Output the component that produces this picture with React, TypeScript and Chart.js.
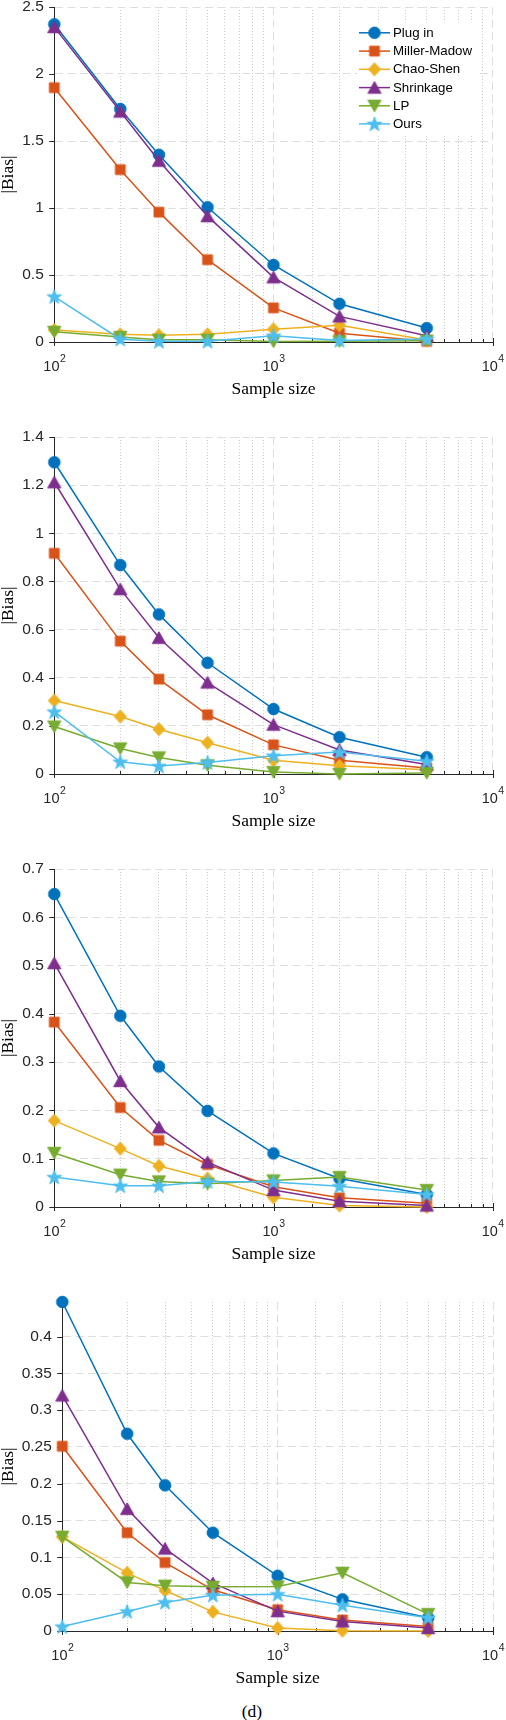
import React, { useEffect, useRef } from "react";
import { Chart, registerables } from "chart.js";

Chart.register(...registerables);

// ---------------- data ----------------
const sampleSizes = [100, 200, 300, 500, 1000, 2000, 5000];
const seriesNames = ["Plug in", "Miller-Madow", "Chao-Shen", "Shrinkage", "LP", "Ours"];
const seriesColors = ["#0072BD", "#D95319", "#EDB120", "#7E2F8E", "#77AC30", "#4DBEEE"];
const seriesMarkers = ["circle", "square", "diamond", "triangleUp", "triangleDown", "pentagram"];

// panel 1
const plugInA = [2.371, 1.739, 1.397, 1.006, 0.575, 0.285, 0.104];
const millerMadowA = [1.898, 1.286, 0.969, 0.614, 0.255, 0.066, 0.005];
const chaoShenA = [0.09, 0.057, 0.05, 0.057, 0.095, 0.125, 0.015];
const shrinkageA = [2.35, 1.72, 1.353, 0.939, 0.483, 0.191, 0.047];
const lpA = [0.076, 0.037, 0.017, 0.017, 0.003, 0.005, 0.01];
const oursA = [0.339, 0.021, 0.005, 0.005, 0.047, 0.012, 0.022];

// panel 2
const plugInB = [1.295, 0.868, 0.663, 0.462, 0.27, 0.153, 0.07];
const millerMadowB = [0.917, 0.552, 0.394, 0.246, 0.121, 0.057, 0.025];
const chaoShenB = [0.305, 0.239, 0.186, 0.13, 0.057, 0.034, 0.018];
const shrinkageB = [1.212, 0.768, 0.566, 0.38, 0.205, 0.1, 0.039];
const lpB = [0.197, 0.106, 0.069, 0.036, 0.008, 0.0, 0.004];
const oursB = [0.259, 0.051, 0.033, 0.048, 0.076, 0.091, 0.053];

// panel 3
const plugInC = [0.648, 0.396, 0.291, 0.199, 0.111, 0.059, 0.026];
const millerMadowC = [0.383, 0.206, 0.138, 0.088, 0.042, 0.019, 0.008];
const chaoShenC = [0.179, 0.121, 0.085, 0.059, 0.02, 0.003, 0.0];
const shrinkageC = [0.505, 0.261, 0.165, 0.093, 0.035, 0.012, 0.003];
const lpC = [0.112, 0.067, 0.053, 0.048, 0.055, 0.062, 0.035];
const oursC = [0.062, 0.044, 0.044, 0.053, 0.052, 0.043, 0.026];

// panel 4
const plugInD = [0.447, 0.268, 0.198, 0.1335, 0.075, 0.043, 0.018];
const millerMadowD = [0.251, 0.1335, 0.093, 0.056, 0.029, 0.015, 0.006];
const chaoShenD = [0.128, 0.079, 0.055, 0.026, 0.004, 0.0005, 0.0];
const shrinkageD = [0.32, 0.166, 0.112, 0.065, 0.027, 0.013, 0.004];
const lpD = [0.128, 0.066, 0.0615, 0.06, 0.0605, 0.079, 0.023];
const oursD = [0.006, 0.0265, 0.039, 0.0487, 0.05, 0.035, 0.018];

const panelSeries = [
  [plugInA, millerMadowA, chaoShenA, shrinkageA, lpA, oursA],
  [plugInB, millerMadowB, chaoShenB, shrinkageB, lpB, oursB],
  [plugInC, millerMadowC, chaoShenC, shrinkageC, lpC, oursC],
  [plugInD, millerMadowD, chaoShenD, shrinkageD, lpD, oursD],
];

const yMaxes = [2.5, 1.4, 0.7, 0.447];
const yStepSizes = [0.5, 0.2, 0.1, 0.05];
const xMin = 100;
const xMax = 10000;
const xTickExponents = [2, 3, 4];
const xAxisTitle = "Sample size";
const yAxisTitle = "|Bias|";
const caption = "(d)";

// ---------------- layout / style ----------------
const W = 506;
const PAD_TOP = 12;
const X_SCALE_H = 60;
const PANEL_BOXES = [
  { top: 6.5, bottom: 342, left: 54.3, right: 492.7 },
  { top: 437, bottom: 774, left: 54.3, right: 492.7 },
  { top: 868.5, bottom: 1206.5, left: 54.3, right: 492.7 },
  { top: 1302, bottom: 1631, left: 62.3, right: 493 },
];
const AXIS_COLOR = "#262626";
const MAJOR_GRID = "#dedede";
const MINOR_GRID = "#cfcfcf";
const SANS = "'Liberation Sans', Arial, Helvetica, sans-serif";
const SERIF = "'Liberation Serif', 'Times New Roman', serif";

function isPow10(v: number) {
  const l = Math.log10(v);
  return Math.abs(l - Math.round(l)) < 1e-9;
}

function makeMarker(shape: string, color: string): HTMLCanvasElement {
  const S = 20;
  const c = document.createElement("canvas");
  c.width = S;
  c.height = S;
  const g = c.getContext("2d") as CanvasRenderingContext2D;
  g.fillStyle = color;
  g.strokeStyle = color;
  g.lineWidth = 1;
  g.lineJoin = "miter";
  const m = S / 2;
  g.beginPath();
  if (shape === "circle") {
    g.arc(m, m, 5.8, 0, Math.PI * 2);
  } else if (shape === "square") {
    g.rect(m - 4.9, m - 4.9, 9.8, 9.8);
  } else if (shape === "diamond") {
    g.moveTo(m, m - 6.6);
    g.lineTo(m + 6.1, m);
    g.lineTo(m, m + 6.6);
    g.lineTo(m - 6.1, m);
    g.closePath();
  } else if (shape === "triangleUp") {
    g.moveTo(m, m - 6.1);
    g.lineTo(m + 6.6, m + 5.7);
    g.lineTo(m - 6.6, m + 5.7);
    g.closePath();
  } else if (shape === "triangleDown") {
    g.moveTo(m, m + 6.1);
    g.lineTo(m + 6.6, m - 5.7);
    g.lineTo(m - 6.6, m - 5.7);
    g.closePath();
  } else {
    const ro = 7.6;
    const ri = 3.0;
    for (let k = 0; k < 10; k++) {
      const r = k % 2 === 0 ? ro : ri;
      const a = -Math.PI / 2 + (k * Math.PI) / 5;
      const px = m + r * Math.cos(a);
      const py = m + r * Math.sin(a) + 0.6;
      if (k === 0) g.moveTo(px, py);
      else g.lineTo(px, py);
    }
    g.closePath();
  }
  g.fill();
  g.stroke();
  return c;
}

const tickMarksPlugin = {
  id: "tickMarks",
  beforeDatasetsDraw(chart: any) {
    const { ctx, chartArea, scales } = chart;
    ctx.save();
    ctx.strokeStyle = AXIS_COLOR;
    ctx.lineWidth = 1;
    ctx.setLineDash([]);
    const ys = scales.y;
    ys.ticks.forEach((t: any) => {
      const py = Math.round(ys.getPixelForValue(t.value)) + 0.5;
      ctx.beginPath();
      ctx.moveTo(chartArea.left - 5, py);
      ctx.lineTo(chartArea.left, py);
      ctx.stroke();
    });
    const xs = scales.x;
    const b = chartArea.bottom;
    xs.ticks.forEach((t: any) => {
      const px = Math.round(xs.getPixelForValue(t.value)) + 0.5;
      ctx.beginPath();
      if (isPow10(t.value)) {
        ctx.moveTo(px, b - 4);
        ctx.lineTo(px, b + 4);
      } else {
        ctx.moveTo(px, b - 3);
        ctx.lineTo(px, b);
      }
      ctx.stroke();
    });
    // x tick labels 10^n
    ctx.fillStyle = AXIS_COLOR;
    ctx.textBaseline = "middle";
    ctx.textAlign = "left";
    xTickExponents.forEach((e) => {
      const px = xs.getPixelForValue(Math.pow(10, e));
      ctx.font = `14.5px ${SANS}`;
      const wBase = ctx.measureText("10").width;
      ctx.font = `10.5px ${SANS}`;
      const wExp = ctx.measureText(String(e)).width;
      const x0 = px - (wBase + wExp) / 2;
      ctx.font = `14.5px ${SANS}`;
      ctx.fillText("10", x0, b + 24.7);
      ctx.font = `10.5px ${SANS}`;
      ctx.fillText(String(e), x0 + wBase + 0.5, b + 17.5);
    });
    ctx.restore();
  },
};

function makeLegendPlugin(markers: HTMLCanvasElement[]) {
  return {
    id: "matlabLegend",
    afterDraw(chart: any) {
      const { ctx } = chart;
      const off = PAD_TOP - 6.5;
      ctx.save();
      ctx.fillStyle = "#ffffff";
      ctx.fillRect(357, 22 + off, 120, 112);
      const rows = [32.3, 50.6, 68.8, 87.1, 105.3, 123.4];
      ctx.font = `13.3px ${SANS}`;
      ctx.textBaseline = "middle";
      ctx.textAlign = "left";
      seriesNames.forEach((name, i) => {
        const y = rows[i] + off;
        ctx.strokeStyle = seriesColors[i];
        ctx.lineWidth = 1.5;
        ctx.beginPath();
        ctx.moveTo(359, y);
        ctx.lineTo(390, y);
        ctx.stroke();
        const mk = markers[i];
        ctx.drawImage(mk, 374.5 - mk.width / 2, y - mk.height / 2, mk.width, mk.height);
        ctx.fillStyle = "#000000";
        ctx.fillText(name, 393, y + 0.5);
      });
      ctx.restore();
    },
  };
}

function Panel({ index }: { index: number }) {
  const ref = useRef<HTMLCanvasElement | null>(null);
  const box = PANEL_BOXES[index];
  const canvasTop = box.top - PAD_TOP;
  const H = PAD_TOP + (box.bottom - box.top) + X_SCALE_H;

  useEffect(() => {
    if (!ref.current) return;
    const markers = seriesMarkers.map((s, i) => makeMarker(s, seriesColors[i]));
    const series = panelSeries[index];
    const datasets = seriesNames.map((name, i) => ({
      label: name,
      data: sampleSizes.map((x, j) => ({ x, y: series[i][j] })),
      borderColor: seriesColors[i],
      backgroundColor: seriesColors[i],
      borderWidth: 1.5,
      pointStyle: markers[i],
      pointRadius: 6,
      pointHoverRadius: 6,
      tension: 0,
      fill: false,
      clip: false,
      order: seriesNames.length - 1 - i,
    }));
    const plugins: any[] = [tickMarksPlugin];
    if (index === 0) plugins.push(makeLegendPlugin(markers));

    const chart = new Chart(ref.current, {
      type: "line",
      data: { datasets },
      plugins,
      options: {
        responsive: false,
        maintainAspectRatio: false,
        animation: false,
        events: [],
        layout: { padding: { top: PAD_TOP, left: 0, right: W - box.right, bottom: 0 } },
        plugins: { legend: { display: false }, tooltip: { enabled: false } },
        scales: {
          x: {
            type: "logarithmic",
            min: xMin,
            max: xMax,
            ticks: { display: false },
            grid: {
              drawTicks: false,
              lineWidth: 1,
              color: (c: any) => (c.tick && isPow10(c.tick.value) ? MAJOR_GRID : MINOR_GRID),
            },
            border: {
              display: true,
              color: AXIS_COLOR,
              width: 1,
              dash: (c: any) => (c.tick ? (isPow10(c.tick.value) ? [8, 4.5] : [1, 2]) : []),
            },
            title: {
              display: true,
              text: xAxisTitle,
              color: "#000000",
              font: { family: SERIF, size: 17.5, lineHeight: 1.2 },
              padding: { top: 0, bottom: 2 },
            },
            afterFit: (s: any) => {
              s.height = X_SCALE_H;
              s.paddingLeft = 0;
              s.paddingRight = 0;
            },
          } as any,
          y: {
            type: "linear",
            min: 0,
            max: yMaxes[index],
            ticks: {
              stepSize: yStepSizes[index],
              includeBounds: false,
              padding: 10.5,
              color: AXIS_COLOR,
              font: { family: SANS, size: 15.5 },
              callback: (v: any) => String(Number(Number(v).toFixed(4))),
            },
            grid: { drawTicks: false, lineWidth: 1, color: MAJOR_GRID },
            border: { display: true, color: AXIS_COLOR, width: 1, dash: [8, 4.5] },
            title: {
              display: true,
              text: yAxisTitle,
              color: "#000000",
              font: { family: SERIF, size: 17.5, lineHeight: 1 },
              padding: { top: 0, bottom: 0 },
            },
            afterFit: (s: any) => {
              s.width = box.left;
              s.paddingTop = 0;
              s.paddingBottom = 0;
            },
          } as any,
        },
      } as any,
    });
    return () => chart.destroy();
  }, [index]);

  return (
    <canvas
      ref={ref}
      width={W}
      height={H}
      style={{ position: "absolute", left: 0, top: canvasTop, width: W, height: H, display: "block" }}
    />
  );
}

export default function App() {
  return (
    <div
      style={{
        position: "absolute",
        left: 0,
        top: 0,
        width: W,
        height: 1720,
        background: "#ffffff",
        overflow: "hidden",
      }}
    >
      {PANEL_BOXES.map((_, i) => (
        <Panel key={i} index={i} />
      ))}
      <div
        style={{
          position: "absolute",
          left: 152,
          top: 1700.5,
          width: 200,
          textAlign: "center",
          fontFamily: SERIF,
          fontSize: 17.5,
          lineHeight: "20px",
          color: "#000000",
        }}
      >
        {caption}
      </div>
    </div>
  );
}
